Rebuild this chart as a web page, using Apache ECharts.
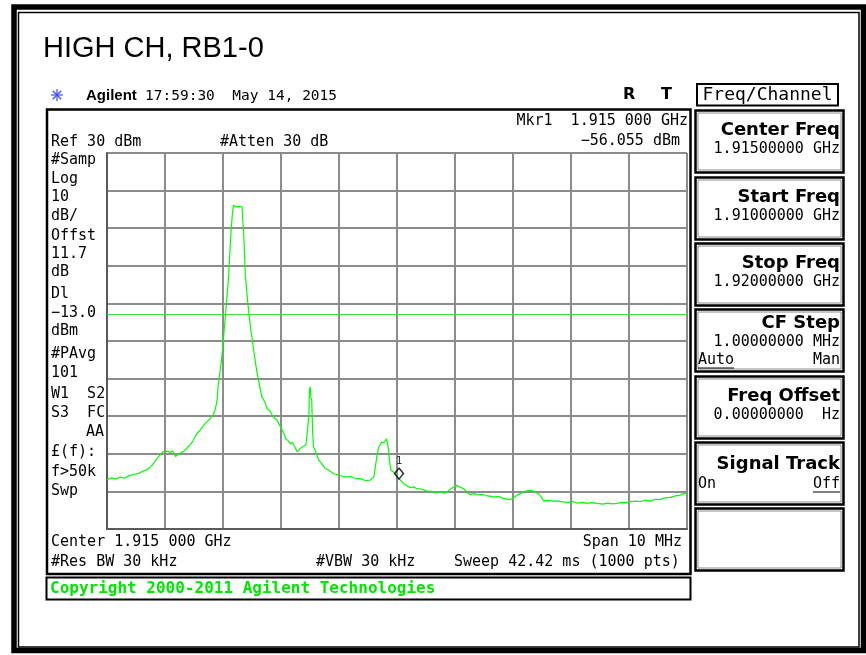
<!DOCTYPE html>
<html>
<head>
<meta charset="utf-8">
<script src="https://cdn.jsdelivr.net/npm/echarts@6/dist/echarts.min.js"></script>
<style>
  html, body { margin: 0; padding: 0; background: #fff; }
  #chart { width: 866px; height: 655px; }
</style>
</head>
<body>
<div id="chart"></div>
<script>
// sweep: 1.910 GHz .. 1.920 GHz, offsets in MHz from start freq
const freqOffsetMHz = [
  0.00, 0.08, 0.15, 0.23, 0.30, 0.38, 0.46, 0.55, 0.62, 0.69, 0.75, 0.80, 0.86, 0.92, 0.97,
  1.00, 1.05, 1.09, 1.13, 1.18, 1.22, 1.26, 1.33, 1.41, 1.48, 1.55, 1.60, 1.67, 1.72, 1.78,
  1.83, 1.87, 1.90, 1.92, 1.95, 1.98, 2.01, 2.04, 2.07, 2.10, 2.12, 2.14, 2.16, 2.18, 2.21,
  2.23, 2.25, 2.27, 2.30, 2.33, 2.34, 2.355, 2.37, 2.384, 2.41, 2.44, 2.48, 2.53, 2.56, 2.59,
  2.63, 2.67, 2.72, 2.76, 2.80, 2.87, 2.93, 2.99, 3.05, 3.08, 3.12, 3.16, 3.20, 3.24, 3.28,
  3.33, 3.39, 3.43, 3.46, 3.48, 3.49, 3.505, 3.515, 3.53, 3.545, 3.56, 3.60, 3.65, 3.70, 3.76,
  3.82, 3.91, 3.98, 4.05, 4.14, 4.20, 4.27, 4.37, 4.45, 4.54, 4.60, 4.626, 4.66, 4.683, 4.74,
  4.78, 4.816, 4.84, 4.855, 4.88, 4.897, 4.95, 5.00, 5.06, 5.11, 5.17, 5.23, 5.29, 5.34, 5.40,
  5.46, 5.52, 5.60, 5.68, 5.75, 5.82, 5.86, 5.92, 5.97, 6.03, 6.08, 6.15, 6.21, 6.26, 6.33,
  6.40, 6.47, 6.54, 6.61, 6.68, 6.75, 6.82, 6.88, 6.95, 7.00, 7.07, 7.15, 7.22, 7.30, 7.37,
  7.44, 7.50, 7.53, 7.60, 7.68, 7.75, 7.87, 7.95, 8.03, 8.10, 8.20, 8.28, 8.36, 8.45, 8.55,
  8.63, 8.72, 8.79, 8.88, 8.95, 9.02, 9.12, 9.20, 9.28, 9.37, 9.45, 9.53, 9.62, 9.71, 9.80,
  9.88, 9.95, 10.00
];
const traceDbm = [
  -56.9, -56.4, -56.7, -56.2, -56.5, -55.8, -55.5, -55.2, -54.6, -54.2, -53.5, -52.6, -51.3, -50.2, -49.4,
  -48.9, -49.3, -49.7, -49.2, -50.7, -50.3, -49.9, -49.2, -48.0, -46.6, -44.6, -43.8, -42.4, -41.5, -40.6,
  -39.8, -38.0, -35.5, -31.3, -28.0, -24.3, -19.0, -13.6, -8.0, -2.1, 4.0, 9.4, 13.5, 16.1, 16.0,
  15.7, 16.0, 15.8, 15.6, 15.6, 12.0, 9.4, 3.5, -2.1, -7.0, -11.8, -17.0, -22.5, -25.8, -28.7,
  -31.8, -34.9, -36.2, -38.0, -38.4, -40.2, -41.0, -42.8, -44.6, -46.0, -46.5, -47.3, -47.0, -48.2, -49.5,
  -48.6, -48.0, -47.6, -47.7, -40.0, -33.1, -32.2, -35.0, -35.8, -44.0, -48.2, -49.5, -51.7, -52.6, -53.9,
  -54.3, -55.3, -55.6, -55.9, -56.2, -56.0, -56.5, -56.6, -57.1, -57.0, -56.2, -55.7, -50.0, -48.2, -46.9,
  -47.0, -46.0, -47.5, -49.1, -53.0, -54.4, -55.0, -56.05, -57.0, -57.9, -58.5, -59.0, -58.8, -59.3, -59.3,
  -59.6, -59.9, -60.0, -60.3, -60.1, -60.4, -60.2, -59.4, -58.9, -58.4, -58.8, -59.3, -60.3, -60.8, -60.6,
  -60.9, -60.8, -61.1, -61.3, -61.5, -61.3, -61.8, -62.0, -62.2, -61.8, -61.0, -60.4, -59.9, -59.7, -60.0,
  -60.6, -61.8, -62.6, -62.4, -62.6, -62.5, -62.8, -62.9, -62.7, -63.1, -62.9, -63.2, -63.0, -63.2, -63.4,
  -63.1, -63.3, -63.2, -62.9, -63.0, -62.7, -62.6, -62.7, -62.3, -62.6, -62.1, -62.2, -61.7, -61.6, -61.2,
  -61.0, -60.6, -60.4
];
const displayLineDbm = -13.0;
const marker1 = [5.0, -56.055];

const leftNotes = [
  ['#Samp', 160], ['Log', 179], ['10', 197], ['dB/', 216], ['Offst', 236], ['11.7', 254],
  ['dB', 272], ['Dl', 294], ['\u221213.0', 313], ['dBm', 331], ['#PAvg', 354], ['101', 373],
  ['W1  S2', 394], ['S3  FC', 413], ['£(f):', 452], ['f>50k', 472], ['Swp', 491]
];
// softkeys: title, value, top of box
const softkeys = [
  ['Center Freq', '1.91500000 GHz', 110],
  ['Start Freq', '1.91000000 GHz', 177],
  ['Stop Freq', '1.92000000 GHz', 243],
  ['CF Step', '1.00000000 MHz', 309],
  ['Freq Offset', '0.00000000  Hz', 376],
  ['Signal Track', '', 442],
  ['', '', 508]
];

const MONO = '15px "DejaVu Sans Mono", monospace';
const GREEN = '#00ff00';

function txt(text, x, y, font, opts) {
  opts = opts || {};
  return {
    type: 'text', x: x, y: y, silent: true, z: 10,
    style: {
      text: text, font: font || MONO, fill: opts.fill || '#000',
      align: opts.align || 'left', verticalAlign: 'middle'
    }
  };
}
function box(x, y, w, h, lw, color) {
  return {
    type: 'rect', silent: true, z: 5,
    shape: {x: x, y: y, width: w, height: h},
    style: {fill: 'none', stroke: color || '#000', lineWidth: lw}
  };
}
function seg(x1, y1, x2, y2, color, lw) {
  return {
    type: 'line', silent: true, z: 10,
    shape: {x1: x1, y1: y1, x2: x2, y2: y2},
    style: {stroke: color, lineWidth: lw || 1}
  };
}

const graphics = [];
// outer frame
graphics.push(box(14, 7, 849.5, 643.5, 5.5));
graphics.push(box(18.5, 12.5, 840.5, 634.5, 1.5));
// title
graphics.push(txt('HIGH CH, RB1-0', 43, 49, '29px "Liberation Sans", Arial, sans-serif'));
// agilent spark
for (let a = 0; a < 4; a++) {
  const ang = a * Math.PI / 4;
  graphics.push(seg(57 - 6 * Math.cos(ang), 95 - 6 * Math.sin(ang), 57 + 6 * Math.cos(ang), 95 + 6 * Math.sin(ang), '#3a4cff', 1.2));
}
graphics.push(txt('Agilent', 86, 96, 'bold 15px "Liberation Sans", Arial, sans-serif'));
graphics.push(txt('17:59:30  May 14, 2015', 145, 96, '14.5px "DejaVu Sans Mono", monospace'));
graphics.push(txt('R', 623, 95, 'bold 16px "DejaVu Sans", sans-serif'));
graphics.push(txt('T', 661, 95, 'bold 16px "DejaVu Sans", sans-serif'));

// screen box
graphics.push(box(47, 109.5, 643.5, 464.5, 2.5));
graphics.push(txt('Mkr1  1.915 000 GHz', 688, 121, MONO, {align: 'right'}));
graphics.push(txt('\u221256.055 dBm', 680, 141, MONO, {align: 'right'}));
graphics.push(txt('Ref 30 dBm', 51, 142, MONO));
graphics.push(txt('#Atten 30 dB', 220, 142, MONO));
leftNotes.forEach(function (n) { graphics.push(txt(n[0], 51, n[1], MONO)); });
graphics.push(txt('AA', 104, 432, MONO, {align: 'right'}));
graphics.push(txt('Center 1.915 000 GHz', 51, 542, MONO));
graphics.push(txt('Span 10 MHz', 682, 542, MONO, {align: 'right'}));
graphics.push(txt('#Res BW 30 kHz', 51, 562, MONO));
graphics.push(txt('#VBW 30 kHz', 316, 562, MONO));
graphics.push(txt('Sweep 42.42 ms (1000 pts)', 454, 562, MONO));

// copyright bar
graphics.push(box(46.5, 577.5, 644, 22, 2));
graphics.push(txt('Copyright 2000-2011 Agilent Technologies', 50, 589, 'bold 16px "DejaVu Sans Mono", monospace', {fill: '#00e600'}));

// softkey panel
graphics.push(box(697, 84, 141, 21.5, 2));
graphics.push(txt('Freq/Channel', 767.5, 95, '18px "DejaVu Sans Mono", monospace', {align: 'center'}));
softkeys.forEach(function (k) {
  const top = k[2];
  graphics.push(box(695.5, top + 0.5, 148, 62, 2.5));
  graphics.push(box(698, top + 3, 143, 57, 1, '#8a8a8a'));
  if (k[0] === 'CF Step') {
    graphics.push(txt(k[0], 840, top + 14, 'bold 18px "DejaVu Sans", sans-serif', {align: 'right'}));
    graphics.push(txt(k[1], 840, top + 33, MONO, {align: 'right'}));
    graphics.push(txt('Auto', 698, top + 51, MONO));
    graphics.push(seg(698, top + 59, 734, top + 59, '#000', 1));
    graphics.push(txt('Man', 840, top + 51, MONO, {align: 'right'}));
  } else if (k[0] === 'Signal Track') {
    graphics.push(txt(k[0], 840, top + 22, 'bold 18px "DejaVu Sans", sans-serif', {align: 'right'}));
    graphics.push(txt('On', 698, top + 42, MONO));
    graphics.push(txt('Off', 840, top + 42, MONO, {align: 'right'}));
    graphics.push(seg(813, top + 50, 840, top + 50, '#000', 1));
  } else if (k[0]) {
    graphics.push(txt(k[0], 840, top + 20, 'bold 18px "DejaVu Sans", sans-serif', {align: 'right'}));
    graphics.push(txt(k[1], 840, top + 39, MONO, {align: 'right'}));
  }
});

const chart = echarts.init(document.getElementById('chart'), null, {renderer: 'canvas'});
chart.setOption({
  animation: false,
  backgroundColor: '#fff',
  grid: {left: 107, top: 153, width: 580, height: 376, containLabel: false},
  xAxis: {
    type: 'value', min: 0, max: 10, interval: 1,
    axisLine: {show: true, onZero: false, lineStyle: {color: '#5a5a5a', width: 2}},
    axisTick: {show: false},
    axisLabel: {show: false},
    splitLine: {show: true, lineStyle: {color: '#8c8c8c', width: 2}}
  },
  yAxis: {
    type: 'value', min: -70, max: 30, interval: 10,
    axisLine: {show: true, onZero: false, lineStyle: {color: '#5a5a5a', width: 2}},
    axisTick: {show: false},
    axisLabel: {show: false},
    splitLine: {show: true, lineStyle: {color: '#8c8c8c', width: 2}}
  },
  series: [
    {
      name: 'trace',
      type: 'line',
      data: freqOffsetMHz.map(function (f, i) { return [f, traceDbm[i]]; }),
      showSymbol: false,
      symbol: 'none',
      lineStyle: {color: GREEN, width: 1.2},
      z: 4,
      markLine: {
        silent: true,
        symbol: 'none',
        label: {show: false},
        lineStyle: {color: '#33e633', width: 1, type: 'solid'},
        data: [{yAxis: displayLineDbm}]
      }
    },
    {
      name: 'marker',
      type: 'scatter',
      data: [marker1],
      symbol: 'diamond',
      symbolSize: [9, 11],
      symbolOffset: [2, -3],
      itemStyle: {color: 'rgba(0,0,0,0)', borderColor: '#000', borderWidth: 1.5},
      label: {show: true, position: 'top', formatter: '1', distance: 1, color: '#000',
        fontSize: 11, fontFamily: 'DejaVu Sans Mono'},
      z: 6
    }
  ],
  graphic: graphics
});
</script>
</body>
</html>
